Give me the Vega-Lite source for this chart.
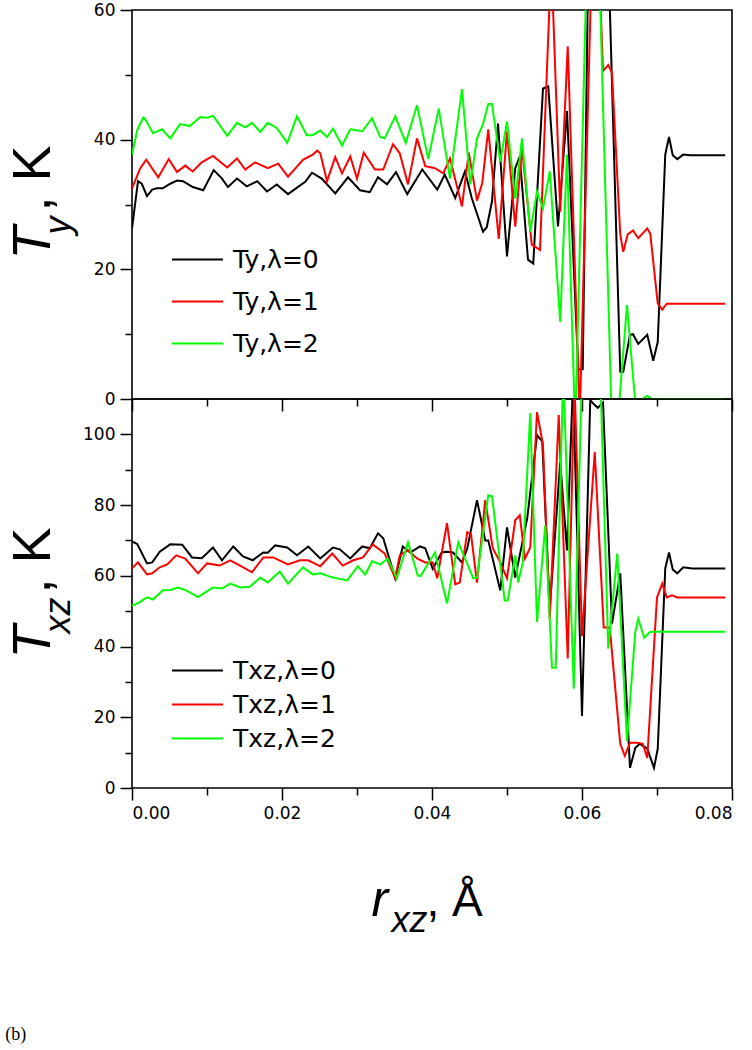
{
  "$schema": "https://vega.github.io/schema/vega-lite/v6.json",
  "background": "white",
  "padding": {"left": 5, "top": 0, "right": 10, "bottom": 3},
  "bounds": "flush",
  "spacing": 0,
  "title": {"text": "(b)", "orient": "bottom", "anchor": "start", "frame": "bounds", "font": "Liberation Serif", "fontSize": 18, "fontWeight": "normal", "color": "black", "offset": 87},
  "config": {
    "view": {"stroke": "black", "strokeWidth": 1.6},
    "font": "Liberation Sans",
    "axis": {"domain": false, "grid": false, "tickColor": "black", "tickWidth": 1.5, "labelColor": "black", "labelFont": "DejaVu Sans", "labelFontSize": 17, "labelPadding": 5, "titleColor": "black", "titleFont": "Liberation Sans", "titleFontWeight": "normal", "titlePadding": 0},
    "legend": {"title": null, "orient": "none", "labelFont": "DejaVu Sans", "labelFontSize": 25, "labelColor": "black", "symbolType": "M-5,0H5", "symbolSize": 104, "symbolStrokeWidth": 2, "labelOffset": 23, "padding": 0}
  },
  "datasets": {
    "top": [
      {"r":0,"T":26.3,"s":"Ty,λ=0"},{"r":0.0008,"T":33.6,"s":"Ty,λ=0"},{"r":0.0013,"T":33.2,"s":"Ty,λ=0"},{"r":0.002,"T":31.3,"s":"Ty,λ=0"},{"r":0.0027,"T":32.3,"s":"Ty,λ=0"},{"r":0.0033,"T":32.5,"s":"Ty,λ=0"},{"r":0.0041,"T":32.5,"s":"Ty,λ=0"},{"r":0.0051,"T":33.2,"s":"Ty,λ=0"},{"r":0.006,"T":33.7,"s":"Ty,λ=0"},{"r":0.0068,"T":33.6,"s":"Ty,λ=0"},{"r":0.0081,"T":32.7,"s":"Ty,λ=0"},{"r":0.0095,"T":32.2,"s":"Ty,λ=0"},{"r":0.0109,"T":35.3,"s":"Ty,λ=0"},{"r":0.012,"T":34.0,"s":"Ty,λ=0"},{"r":0.0128,"T":32.7,"s":"Ty,λ=0"},{"r":0.014,"T":34.0,"s":"Ty,λ=0"},{"r":0.0153,"T":32.8,"s":"Ty,λ=0"},{"r":0.0167,"T":33.6,"s":"Ty,λ=0"},{"r":0.018,"T":32.0,"s":"Ty,λ=0"},{"r":0.0193,"T":33.1,"s":"Ty,λ=0"},{"r":0.0208,"T":31.6,"s":"Ty,λ=0"},{"r":0.022,"T":32.6,"s":"Ty,λ=0"},{"r":0.0231,"T":33.5,"s":"Ty,λ=0"},{"r":0.024,"T":34.9,"s":"Ty,λ=0"},{"r":0.0253,"T":34.0,"s":"Ty,λ=0"},{"r":0.0271,"T":31.7,"s":"Ty,λ=0"},{"r":0.0288,"T":34.2,"s":"Ty,λ=0"},{"r":0.0304,"T":32.2,"s":"Ty,λ=0"},{"r":0.0317,"T":31.9,"s":"Ty,λ=0"},{"r":0.0328,"T":34.2,"s":"Ty,λ=0"},{"r":0.034,"T":33.1,"s":"Ty,λ=0"},{"r":0.0352,"T":35.0,"s":"Ty,λ=0"},{"r":0.0367,"T":31.6,"s":"Ty,λ=0"},{"r":0.0387,"T":35.4,"s":"Ty,λ=0"},{"r":0.0407,"T":32.3,"s":"Ty,λ=0"},{"r":0.0417,"T":34.6,"s":"Ty,λ=0"},{"r":0.0431,"T":31.0,"s":"Ty,λ=0"},{"r":0.0444,"T":35.1,"s":"Ty,λ=0"},{"r":0.0453,"T":31.0,"s":"Ty,λ=0"},{"r":0.0468,"T":25.8,"s":"Ty,λ=0"},{"r":0.0473,"T":26.5,"s":"Ty,λ=0"},{"r":0.048,"T":30.5,"s":"Ty,λ=0"},{"r":0.0488,"T":42.5,"s":"Ty,λ=0"},{"r":0.05,"T":22.0,"s":"Ty,λ=0"},{"r":0.0511,"T":35.6,"s":"Ty,λ=0"},{"r":0.0517,"T":37.4,"s":"Ty,λ=0"},{"r":0.0528,"T":21.5,"s":"Ty,λ=0"},{"r":0.0535,"T":20.9,"s":"Ty,λ=0"},{"r":0.0548,"T":47.9,"s":"Ty,λ=0"},{"r":0.0555,"T":48.2,"s":"Ty,λ=0"},{"r":0.0568,"T":26.6,"s":"Ty,λ=0"},{"r":0.058,"T":44.4,"s":"Ty,λ=0"},{"r":0.0595,"T":4.6,"s":"Ty,λ=0"},{"r":0.0601,"T":4.6,"s":"Ty,λ=0"},{"r":0.0611,"T":90,"s":"Ty,λ=0"},{"r":0.0621,"T":100,"s":"Ty,λ=0"},{"r":0.0631,"T":85,"s":"Ty,λ=0"},{"r":0.0651,"T":4.2,"s":"Ty,λ=0"},{"r":0.0655,"T":4.2,"s":"Ty,λ=0"},{"r":0.0664,"T":9.9,"s":"Ty,λ=0"},{"r":0.0668,"T":10.0,"s":"Ty,λ=0"},{"r":0.0675,"T":8.5,"s":"Ty,λ=0"},{"r":0.0687,"T":9.9,"s":"Ty,λ=0"},{"r":0.0695,"T":5.9,"s":"Ty,λ=0"},{"r":0.0701,"T":8.8,"s":"Ty,λ=0"},{"r":0.0711,"T":37.7,"s":"Ty,λ=0"},{"r":0.0716,"T":40.4,"s":"Ty,λ=0"},{"r":0.0721,"T":37.6,"s":"Ty,λ=0"},{"r":0.0727,"T":37.0,"s":"Ty,λ=0"},{"r":0.0735,"T":37.7,"s":"Ty,λ=0"},{"r":0.0744,"T":37.6,"s":"Ty,λ=0"},{"r":0.0791,"T":37.6,"s":"Ty,λ=0"},
      {"r":0,"T":32.5,"s":"Ty,λ=1"},{"r":0.0011,"T":35.6,"s":"Ty,λ=1"},{"r":0.0019,"T":36.9,"s":"Ty,λ=1"},{"r":0.0035,"T":34.2,"s":"Ty,λ=1"},{"r":0.0049,"T":37.0,"s":"Ty,λ=1"},{"r":0.006,"T":35.0,"s":"Ty,λ=1"},{"r":0.0071,"T":36.0,"s":"Ty,λ=1"},{"r":0.0081,"T":35.1,"s":"Ty,λ=1"},{"r":0.0093,"T":36.5,"s":"Ty,λ=1"},{"r":0.0108,"T":37.5,"s":"Ty,λ=1"},{"r":0.0127,"T":35.7,"s":"Ty,λ=1"},{"r":0.014,"T":37.1,"s":"Ty,λ=1"},{"r":0.0151,"T":35.4,"s":"Ty,λ=1"},{"r":0.0164,"T":36.5,"s":"Ty,λ=1"},{"r":0.0181,"T":35.6,"s":"Ty,λ=1"},{"r":0.0195,"T":36.3,"s":"Ty,λ=1"},{"r":0.0208,"T":34.3,"s":"Ty,λ=1"},{"r":0.0228,"T":36.9,"s":"Ty,λ=1"},{"r":0.0241,"T":37.7,"s":"Ty,λ=1"},{"r":0.0247,"T":38.3,"s":"Ty,λ=1"},{"r":0.0251,"T":37.9,"s":"Ty,λ=1"},{"r":0.026,"T":33.6,"s":"Ty,λ=1"},{"r":0.0271,"T":37.3,"s":"Ty,λ=1"},{"r":0.028,"T":34.8,"s":"Ty,λ=1"},{"r":0.0291,"T":37.4,"s":"Ty,λ=1"},{"r":0.03,"T":34.0,"s":"Ty,λ=1"},{"r":0.0309,"T":38.0,"s":"Ty,λ=1"},{"r":0.0324,"T":35.4,"s":"Ty,λ=1"},{"r":0.0335,"T":35.4,"s":"Ty,λ=1"},{"r":0.0348,"T":39.3,"s":"Ty,λ=1"},{"r":0.0357,"T":37.9,"s":"Ty,λ=1"},{"r":0.0368,"T":33.1,"s":"Ty,λ=1"},{"r":0.038,"T":40.2,"s":"Ty,λ=1"},{"r":0.0391,"T":35.9,"s":"Ty,λ=1"},{"r":0.0404,"T":35.6,"s":"Ty,λ=1"},{"r":0.0415,"T":34.8,"s":"Ty,λ=1"},{"r":0.0424,"T":37.1,"s":"Ty,λ=1"},{"r":0.044,"T":29.7,"s":"Ty,λ=1"},{"r":0.0449,"T":38.0,"s":"Ty,λ=1"},{"r":0.046,"T":30.6,"s":"Ty,λ=1"},{"r":0.0467,"T":33.3,"s":"Ty,λ=1"},{"r":0.0475,"T":41.6,"s":"Ty,λ=1"},{"r":0.0489,"T":24.7,"s":"Ty,λ=1"},{"r":0.05,"T":41.3,"s":"Ty,λ=1"},{"r":0.0511,"T":26.6,"s":"Ty,λ=1"},{"r":0.052,"T":38.7,"s":"Ty,λ=1"},{"r":0.0533,"T":23.8,"s":"Ty,λ=1"},{"r":0.0544,"T":23.0,"s":"Ty,λ=1"},{"r":0.0559,"T":68,"s":"Ty,λ=1"},{"r":0.0571,"T":28.9,"s":"Ty,λ=1"},{"r":0.0581,"T":54.4,"s":"Ty,λ=1"},{"r":0.0597,"T":-3,"s":"Ty,λ=1"},{"r":0.0617,"T":85,"s":"Ty,λ=1"},{"r":0.0628,"T":50.6,"s":"Ty,λ=1"},{"r":0.0635,"T":51.5,"s":"Ty,λ=1"},{"r":0.064,"T":50.3,"s":"Ty,λ=1"},{"r":0.0651,"T":25.4,"s":"Ty,λ=1"},{"r":0.0655,"T":22.7,"s":"Ty,λ=1"},{"r":0.0661,"T":25.4,"s":"Ty,λ=1"},{"r":0.0668,"T":26.0,"s":"Ty,λ=1"},{"r":0.0675,"T":24.8,"s":"Ty,λ=1"},{"r":0.0687,"T":26.3,"s":"Ty,λ=1"},{"r":0.0691,"T":25.5,"s":"Ty,λ=1"},{"r":0.0701,"T":14.7,"s":"Ty,λ=1"},{"r":0.0707,"T":13.8,"s":"Ty,λ=1"},{"r":0.0713,"T":14.7,"s":"Ty,λ=1"},{"r":0.0721,"T":14.7,"s":"Ty,λ=1"},{"r":0.0791,"T":14.7,"s":"Ty,λ=1"},
      {"r":0,"T":37.7,"s":"Ty,λ=2"},{"r":0.0007,"T":41.5,"s":"Ty,λ=2"},{"r":0.0015,"T":43.4,"s":"Ty,λ=2"},{"r":0.0017,"T":43.3,"s":"Ty,λ=2"},{"r":0.0028,"T":41.0,"s":"Ty,λ=2"},{"r":0.004,"T":41.6,"s":"Ty,λ=2"},{"r":0.0051,"T":40.2,"s":"Ty,λ=2"},{"r":0.0064,"T":42.4,"s":"Ty,λ=2"},{"r":0.0077,"T":42.1,"s":"Ty,λ=2"},{"r":0.0091,"T":43.5,"s":"Ty,λ=2"},{"r":0.01,"T":43.4,"s":"Ty,λ=2"},{"r":0.0108,"T":43.7,"s":"Ty,λ=2"},{"r":0.0127,"T":40.6,"s":"Ty,λ=2"},{"r":0.014,"T":42.6,"s":"Ty,λ=2"},{"r":0.0151,"T":41.9,"s":"Ty,λ=2"},{"r":0.016,"T":42.6,"s":"Ty,λ=2"},{"r":0.0171,"T":41.2,"s":"Ty,λ=2"},{"r":0.0181,"T":42.6,"s":"Ty,λ=2"},{"r":0.0193,"T":41.8,"s":"Ty,λ=2"},{"r":0.0207,"T":39.5,"s":"Ty,λ=2"},{"r":0.022,"T":43.6,"s":"Ty,λ=2"},{"r":0.0233,"T":40.7,"s":"Ty,λ=2"},{"r":0.0241,"T":40.7,"s":"Ty,λ=2"},{"r":0.0251,"T":41.4,"s":"Ty,λ=2"},{"r":0.026,"T":40.4,"s":"Ty,λ=2"},{"r":0.0268,"T":41.7,"s":"Ty,λ=2"},{"r":0.028,"T":39.1,"s":"Ty,λ=2"},{"r":0.0291,"T":41.6,"s":"Ty,λ=2"},{"r":0.0307,"T":41.3,"s":"Ty,λ=2"},{"r":0.032,"T":43.3,"s":"Ty,λ=2"},{"r":0.0331,"T":40.4,"s":"Ty,λ=2"},{"r":0.0337,"T":40.2,"s":"Ty,λ=2"},{"r":0.0351,"T":43.6,"s":"Ty,λ=2"},{"r":0.0365,"T":39.5,"s":"Ty,λ=2"},{"r":0.038,"T":45.3,"s":"Ty,λ=2"},{"r":0.0395,"T":37.0,"s":"Ty,λ=2"},{"r":0.0409,"T":44.8,"s":"Ty,λ=2"},{"r":0.0424,"T":34.0,"s":"Ty,λ=2"},{"r":0.044,"T":47.8,"s":"Ty,λ=2"},{"r":0.0451,"T":33.1,"s":"Ty,λ=2"},{"r":0.046,"T":40.2,"s":"Ty,λ=2"},{"r":0.0468,"T":42.4,"s":"Ty,λ=2"},{"r":0.0475,"T":45.5,"s":"Ty,λ=2"},{"r":0.048,"T":45.5,"s":"Ty,λ=2"},{"r":0.0491,"T":36.6,"s":"Ty,λ=2"},{"r":0.05,"T":42.8,"s":"Ty,λ=2"},{"r":0.0511,"T":30.9,"s":"Ty,λ=2"},{"r":0.052,"T":40.2,"s":"Ty,λ=2"},{"r":0.0531,"T":25.8,"s":"Ty,λ=2"},{"r":0.054,"T":32.0,"s":"Ty,λ=2"},{"r":0.0548,"T":29.4,"s":"Ty,λ=2"},{"r":0.0557,"T":35.1,"s":"Ty,λ=2"},{"r":0.0571,"T":11.9,"s":"Ty,λ=2"},{"r":0.058,"T":37.7,"s":"Ty,λ=2"},{"r":0.0591,"T":-5,"s":"Ty,λ=2"},{"r":0.0608,"T":75,"s":"Ty,λ=2"},{"r":0.0621,"T":75,"s":"Ty,λ=2"},{"r":0.064,"T":-5,"s":"Ty,λ=2"},{"r":0.0648,"T":-3,"s":"Ty,λ=2"},{"r":0.066,"T":14.5,"s":"Ty,λ=2"},{"r":0.0671,"T":-0.5,"s":"Ty,λ=2"},{"r":0.068,"T":0,"s":"Ty,λ=2"},{"r":0.0687,"T":0.5,"s":"Ty,λ=2"},{"r":0.0693,"T":0,"s":"Ty,λ=2"},{"r":0.0791,"T":0,"s":"Ty,λ=2"}
    ],
    "bottom": [
      {"r":0,"T":69.7,"s":"Txz,λ=0"},{"r":0.0007,"T":69.0,"s":"Txz,λ=0"},{"r":0.002,"T":63.5,"s":"Txz,λ=0"},{"r":0.0027,"T":63.8,"s":"Txz,λ=0"},{"r":0.0037,"T":66.8,"s":"Txz,λ=0"},{"r":0.0051,"T":68.9,"s":"Txz,λ=0"},{"r":0.0067,"T":68.8,"s":"Txz,λ=0"},{"r":0.008,"T":65.2,"s":"Txz,λ=0"},{"r":0.0093,"T":65.0,"s":"Txz,λ=0"},{"r":0.0108,"T":68.0,"s":"Txz,λ=0"},{"r":0.012,"T":64.4,"s":"Txz,λ=0"},{"r":0.0135,"T":68.3,"s":"Txz,λ=0"},{"r":0.0148,"T":65.5,"s":"Txz,λ=0"},{"r":0.0161,"T":64.4,"s":"Txz,λ=0"},{"r":0.0175,"T":66.6,"s":"Txz,λ=0"},{"r":0.0181,"T":66.5,"s":"Txz,λ=0"},{"r":0.0191,"T":68.6,"s":"Txz,λ=0"},{"r":0.0207,"T":68.0,"s":"Txz,λ=0"},{"r":0.022,"T":65.8,"s":"Txz,λ=0"},{"r":0.0235,"T":68.3,"s":"Txz,λ=0"},{"r":0.0251,"T":64.9,"s":"Txz,λ=0"},{"r":0.0268,"T":68.0,"s":"Txz,λ=0"},{"r":0.0277,"T":67.5,"s":"Txz,λ=0"},{"r":0.0291,"T":64.9,"s":"Txz,λ=0"},{"r":0.0307,"T":68.3,"s":"Txz,λ=0"},{"r":0.0317,"T":67.8,"s":"Txz,λ=0"},{"r":0.0328,"T":72.0,"s":"Txz,λ=0"},{"r":0.0335,"T":70.6,"s":"Txz,λ=0"},{"r":0.0351,"T":59.3,"s":"Txz,λ=0"},{"r":0.0361,"T":68.3,"s":"Txz,λ=0"},{"r":0.0371,"T":66.6,"s":"Txz,λ=0"},{"r":0.0384,"T":68.3,"s":"Txz,λ=0"},{"r":0.0391,"T":67.8,"s":"Txz,λ=0"},{"r":0.0401,"T":62.0,"s":"Txz,λ=0"},{"r":0.0413,"T":66.6,"s":"Txz,λ=0"},{"r":0.042,"T":66.8,"s":"Txz,λ=0"},{"r":0.0428,"T":66.6,"s":"Txz,λ=0"},{"r":0.044,"T":63.8,"s":"Txz,λ=0"},{"r":0.0447,"T":67.7,"s":"Txz,λ=0"},{"r":0.046,"T":81.4,"s":"Txz,λ=0"},{"r":0.0471,"T":70.0,"s":"Txz,λ=0"},{"r":0.0475,"T":70.0,"s":"Txz,λ=0"},{"r":0.0491,"T":55.9,"s":"Txz,λ=0"},{"r":0.05,"T":73.7,"s":"Txz,λ=0"},{"r":0.0511,"T":59.5,"s":"Txz,λ=0"},{"r":0.0527,"T":76.3,"s":"Txz,λ=0"},{"r":0.054,"T":99.8,"s":"Txz,λ=0"},{"r":0.0547,"T":98.0,"s":"Txz,λ=0"},{"r":0.0557,"T":50.8,"s":"Txz,λ=0"},{"r":0.0571,"T":92.1,"s":"Txz,λ=0"},{"r":0.058,"T":67.2,"s":"Txz,λ=0"},{"r":0.0588,"T":115,"s":"Txz,λ=0"},{"r":0.06,"T":20.4,"s":"Txz,λ=0"},{"r":0.0611,"T":109.7,"s":"Txz,λ=0"},{"r":0.0616,"T":108.5,"s":"Txz,λ=0"},{"r":0.0621,"T":107.5,"s":"Txz,λ=0"},{"r":0.0628,"T":109.0,"s":"Txz,λ=0"},{"r":0.064,"T":46.5,"s":"Txz,λ=0"},{"r":0.0651,"T":60.7,"s":"Txz,λ=0"},{"r":0.0664,"T":5.7,"s":"Txz,λ=0"},{"r":0.0671,"T":11.3,"s":"Txz,λ=0"},{"r":0.0677,"T":12.5,"s":"Txz,λ=0"},{"r":0.0687,"T":11.1,"s":"Txz,λ=0"},{"r":0.0696,"T":5.7,"s":"Txz,λ=0"},{"r":0.0701,"T":11.1,"s":"Txz,λ=0"},{"r":0.0711,"T":62.1,"s":"Txz,λ=0"},{"r":0.0716,"T":66.6,"s":"Txz,λ=0"},{"r":0.0721,"T":61.8,"s":"Txz,λ=0"},{"r":0.0727,"T":60.7,"s":"Txz,λ=0"},{"r":0.0735,"T":62.4,"s":"Txz,λ=0"},{"r":0.0747,"T":62.1,"s":"Txz,λ=0"},{"r":0.0791,"T":62.1,"s":"Txz,λ=0"},
      {"r":0,"T":62.1,"s":"Txz,λ=1"},{"r":0.0008,"T":63.8,"s":"Txz,λ=1"},{"r":0.002,"T":60.4,"s":"Txz,λ=1"},{"r":0.0027,"T":60.7,"s":"Txz,λ=1"},{"r":0.0037,"T":62.4,"s":"Txz,λ=1"},{"r":0.0047,"T":63.2,"s":"Txz,λ=1"},{"r":0.0059,"T":65.8,"s":"Txz,λ=1"},{"r":0.0071,"T":64.9,"s":"Txz,λ=1"},{"r":0.0088,"T":60.7,"s":"Txz,λ=1"},{"r":0.01,"T":63.5,"s":"Txz,λ=1"},{"r":0.0117,"T":62.9,"s":"Txz,λ=1"},{"r":0.0131,"T":64.4,"s":"Txz,λ=1"},{"r":0.0144,"T":62.9,"s":"Txz,λ=1"},{"r":0.016,"T":61.0,"s":"Txz,λ=1"},{"r":0.0175,"T":65.2,"s":"Txz,λ=1"},{"r":0.0188,"T":65.2,"s":"Txz,λ=1"},{"r":0.0208,"T":63.2,"s":"Txz,λ=1"},{"r":0.0224,"T":64.4,"s":"Txz,λ=1"},{"r":0.0235,"T":64.4,"s":"Txz,λ=1"},{"r":0.0251,"T":62.7,"s":"Txz,λ=1"},{"r":0.0267,"T":66.3,"s":"Txz,λ=1"},{"r":0.0281,"T":62.9,"s":"Txz,λ=1"},{"r":0.0295,"T":64.4,"s":"Txz,λ=1"},{"r":0.0308,"T":65.2,"s":"Txz,λ=1"},{"r":0.0321,"T":68.9,"s":"Txz,λ=1"},{"r":0.0337,"T":66.3,"s":"Txz,λ=1"},{"r":0.0351,"T":59.3,"s":"Txz,λ=1"},{"r":0.0357,"T":65.8,"s":"Txz,λ=1"},{"r":0.0368,"T":67.2,"s":"Txz,λ=1"},{"r":0.038,"T":64.9,"s":"Txz,λ=1"},{"r":0.0391,"T":63.8,"s":"Txz,λ=1"},{"r":0.0401,"T":63.8,"s":"Txz,λ=1"},{"r":0.0407,"T":59.3,"s":"Txz,λ=1"},{"r":0.042,"T":74.9,"s":"Txz,λ=1"},{"r":0.0431,"T":57.6,"s":"Txz,λ=1"},{"r":0.0437,"T":58.1,"s":"Txz,λ=1"},{"r":0.0447,"T":72.3,"s":"Txz,λ=1"},{"r":0.0452,"T":71.8,"s":"Txz,λ=1"},{"r":0.046,"T":58.1,"s":"Txz,λ=1"},{"r":0.0471,"T":81.4,"s":"Txz,λ=1"},{"r":0.0481,"T":67.8,"s":"Txz,λ=1"},{"r":0.0491,"T":63.8,"s":"Txz,λ=1"},{"r":0.05,"T":59.3,"s":"Txz,λ=1"},{"r":0.0511,"T":75.7,"s":"Txz,λ=1"},{"r":0.0517,"T":77.1,"s":"Txz,λ=1"},{"r":0.0524,"T":64.9,"s":"Txz,λ=1"},{"r":0.0531,"T":68.0,"s":"Txz,λ=1"},{"r":0.054,"T":106.3,"s":"Txz,λ=1"},{"r":0.0548,"T":97.0,"s":"Txz,λ=1"},{"r":0.0557,"T":47.9,"s":"Txz,λ=1"},{"r":0.0569,"T":105.5,"s":"Txz,λ=1"},{"r":0.0581,"T":36.6,"s":"Txz,λ=1"},{"r":0.059,"T":115,"s":"Txz,λ=1"},{"r":0.06,"T":42.9,"s":"Txz,λ=1"},{"r":0.0617,"T":95,"s":"Txz,λ=1"},{"r":0.0629,"T":45.4,"s":"Txz,λ=1"},{"r":0.0637,"T":45.4,"s":"Txz,λ=1"},{"r":0.0651,"T":12.5,"s":"Txz,λ=1"},{"r":0.0657,"T":9.1,"s":"Txz,λ=1"},{"r":0.0664,"T":12.8,"s":"Txz,λ=1"},{"r":0.0673,"T":12.8,"s":"Txz,λ=1"},{"r":0.0681,"T":12.5,"s":"Txz,λ=1"},{"r":0.0687,"T":8.5,"s":"Txz,λ=1"},{"r":0.07,"T":53.9,"s":"Txz,λ=1"},{"r":0.0707,"T":57.8,"s":"Txz,λ=1"},{"r":0.0713,"T":53.9,"s":"Txz,λ=1"},{"r":0.072,"T":54.5,"s":"Txz,λ=1"},{"r":0.0727,"T":53.9,"s":"Txz,λ=1"},{"r":0.0791,"T":53.9,"s":"Txz,λ=1"},
      {"r":0,"T":51.6,"s":"Txz,λ=2"},{"r":0.0008,"T":52.3,"s":"Txz,λ=2"},{"r":0.002,"T":53.9,"s":"Txz,λ=2"},{"r":0.0028,"T":53.3,"s":"Txz,λ=2"},{"r":0.0041,"T":55.9,"s":"Txz,λ=2"},{"r":0.0051,"T":56.0,"s":"Txz,λ=2"},{"r":0.0061,"T":56.7,"s":"Txz,λ=2"},{"r":0.0073,"T":55.8,"s":"Txz,λ=2"},{"r":0.0088,"T":54.0,"s":"Txz,λ=2"},{"r":0.01,"T":55.6,"s":"Txz,λ=2"},{"r":0.0108,"T":56.7,"s":"Txz,λ=2"},{"r":0.012,"T":56.4,"s":"Txz,λ=2"},{"r":0.0131,"T":57.8,"s":"Txz,λ=2"},{"r":0.0144,"T":56.7,"s":"Txz,λ=2"},{"r":0.0157,"T":56.9,"s":"Txz,λ=2"},{"r":0.0171,"T":59.5,"s":"Txz,λ=2"},{"r":0.0181,"T":58.1,"s":"Txz,λ=2"},{"r":0.0197,"T":61.2,"s":"Txz,λ=2"},{"r":0.0208,"T":57.8,"s":"Txz,λ=2"},{"r":0.0228,"T":62.4,"s":"Txz,λ=2"},{"r":0.0241,"T":60.4,"s":"Txz,λ=2"},{"r":0.0251,"T":60.7,"s":"Txz,λ=2"},{"r":0.0268,"T":59.5,"s":"Txz,λ=2"},{"r":0.0287,"T":58.7,"s":"Txz,λ=2"},{"r":0.0301,"T":62.7,"s":"Txz,λ=2"},{"r":0.0311,"T":60.4,"s":"Txz,λ=2"},{"r":0.032,"T":64.1,"s":"Txz,λ=2"},{"r":0.0331,"T":63.2,"s":"Txz,λ=2"},{"r":0.0341,"T":64.9,"s":"Txz,λ=2"},{"r":0.0353,"T":59.3,"s":"Txz,λ=2"},{"r":0.0368,"T":69.5,"s":"Txz,λ=2"},{"r":0.0381,"T":60.1,"s":"Txz,λ=2"},{"r":0.0385,"T":60.0,"s":"Txz,λ=2"},{"r":0.0404,"T":66.6,"s":"Txz,λ=2"},{"r":0.042,"T":52.2,"s":"Txz,λ=2"},{"r":0.0435,"T":69.5,"s":"Txz,λ=2"},{"r":0.0455,"T":59.3,"s":"Txz,λ=2"},{"r":0.046,"T":59.5,"s":"Txz,λ=2"},{"r":0.0475,"T":82.8,"s":"Txz,λ=2"},{"r":0.048,"T":82.5,"s":"Txz,λ=2"},{"r":0.0497,"T":53.0,"s":"Txz,λ=2"},{"r":0.0501,"T":53.0,"s":"Txz,λ=2"},{"r":0.0511,"T":65.8,"s":"Txz,λ=2"},{"r":0.0515,"T":58.1,"s":"Txz,λ=2"},{"r":0.0521,"T":63.8,"s":"Txz,λ=2"},{"r":0.0531,"T":106.0,"s":"Txz,λ=2"},{"r":0.054,"T":47.0,"s":"Txz,λ=2"},{"r":0.0551,"T":74.3,"s":"Txz,λ=2"},{"r":0.056,"T":34.0,"s":"Txz,λ=2"},{"r":0.0565,"T":34.0,"s":"Txz,λ=2"},{"r":0.0575,"T":118,"s":"Txz,λ=2"},{"r":0.0589,"T":28.1,"s":"Txz,λ=2"},{"r":0.06,"T":118,"s":"Txz,λ=2"},{"r":0.0611,"T":125,"s":"Txz,λ=2"},{"r":0.0624,"T":120,"s":"Txz,λ=2"},{"r":0.0635,"T":39.4,"s":"Txz,λ=2"},{"r":0.0647,"T":66.3,"s":"Txz,λ=2"},{"r":0.066,"T":13.3,"s":"Txz,λ=2"},{"r":0.0671,"T":44.0,"s":"Txz,λ=2"},{"r":0.0675,"T":47.9,"s":"Txz,λ=2"},{"r":0.0683,"T":42.5,"s":"Txz,λ=2"},{"r":0.0691,"T":44.2,"s":"Txz,λ=2"},{"r":0.0791,"T":44.2,"s":"Txz,λ=2"}
    ]
  },
  "resolve": {"scale": {"color": "independent"}, "legend": {"color": "independent"}},
  "vconcat": [
    {
      "width": 600, "height": 389,
      "resolve": {"axis": {"x": "independent", "y": "independent"}},
      "layer": [
        {
          "data": {"name": "top"},
          "mark": {"type": "line", "strokeWidth": 2, "clip": true},
          "encoding": {
            "x": {"field": "r", "type": "quantitative", "scale": {"domain": [0, 0.08], "nice": false, "zero": false},
                  "axis": {"orient": "bottom", "values": [0, 0.02, 0.04, 0.06, 0.08], "labels": false, "tickSize": 12, "title": null}},
            "y": {"field": "T", "type": "quantitative", "scale": {"domain": [0, 60], "nice": false},
                  "axis": {"orient": "left", "values": [0, 20, 40, 60], "tickSize": 12, "title": "T", "titleFontStyle": "italic", "titleFontSize": 54, "titleAngle": 270, "titleAlign": "left", "titleBaseline": "alphabetic", "titleX": -83, "titleY": 249}},
            "color": {"field": "s", "type": "nominal",
                      "scale": {"domain": ["Ty,λ=0", "Ty,λ=1", "Ty,λ=2"], "range": ["#000000", "#ff0000", "#00ff00"]},
                      "legend": {"legendX": 53, "legendY": 237, "rowPadding": 16}}
          }
        },
        {
          "data": {"values": []},
          "mark": {"type": "line"},
          "encoding": {
            "x": {"field": "r", "type": "quantitative", "scale": {"domain": [0, 0.08], "nice": false, "zero": false},
                  "axis": {"orient": "bottom", "values": [0.01, 0.03, 0.05, 0.07], "labels": false, "tickSize": 7, "title": null}},
            "y": {"field": "T", "type": "quantitative", "scale": {"domain": [0, 60], "nice": false},
                  "axis": {"orient": "left", "values": [10, 30, 50], "labels": false, "tickSize": 7, "title": "y", "titleFontStyle": "italic", "titleFontSize": 36, "titleAngle": 270, "titleAlign": "left", "titleBaseline": "alphabetic", "titleX": -63, "titleY": 224}}
          }
        },
        {
          "data": {"values": []},
          "mark": {"type": "line"},
          "encoding": {
            "x": {"field": "r", "type": "quantitative", "scale": {"domain": [0, 0.08], "nice": false, "zero": false}, "axis": null},
            "y": {"field": "T", "type": "quantitative", "scale": {"domain": [0, 60], "nice": false},
                  "axis": {"orient": "left", "ticks": false, "labels": false, "title": ", K", "titleFontSize": 54, "titleAngle": 270, "titleAlign": "left", "titleBaseline": "alphabetic", "titleX": -83, "titleY": 201}}
          }
        }
      ]
    },
    {
      "width": 600, "height": 389,
      "resolve": {"axis": {"x": "independent", "y": "independent"}},
      "layer": [
        {
          "data": {"name": "bottom"},
          "mark": {"type": "line", "strokeWidth": 2, "clip": true},
          "encoding": {
            "x": {"field": "r", "type": "quantitative", "scale": {"domain": [0, 0.08], "nice": false, "zero": false},
                  "axis": {"orient": "bottom", "values": [0, 0.02, 0.04, 0.06, 0.08], "format": ".2f", "tickSize": 12, "labelPadding": 5, "title": "r", "titleFontStyle": "italic", "titleFontSize": 50, "titleAlign": "left", "titleBaseline": "alphabetic", "titleX": 239, "titleY": 127}},
            "y": {"field": "T", "type": "quantitative", "scale": {"domain": [0, 110], "nice": false},
                  "axis": {"orient": "left", "values": [0, 20, 40, 60, 80, 100], "tickSize": 12, "title": "T", "titleFontStyle": "italic", "titleFontSize": 54, "titleAngle": 270, "titleAlign": "left", "titleBaseline": "alphabetic", "titleX": -83, "titleY": 259}},
            "color": {"field": "s", "type": "nominal",
                      "scale": {"domain": ["Txz,λ=0", "Txz,λ=1", "Txz,λ=2"], "range": ["#000000", "#ff0000", "#00ff00"]},
                      "legend": {"legendX": 53, "legendY": 259, "rowPadding": 8}}
          }
        },
        {
          "data": {"values": []},
          "mark": {"type": "line"},
          "encoding": {
            "x": {"field": "r", "type": "quantitative", "scale": {"domain": [0, 0.08], "nice": false, "zero": false},
                  "axis": {"orient": "bottom", "values": [0.01, 0.03, 0.05, 0.07], "labels": false, "tickSize": 7, "title": "xz", "titleFontStyle": "italic", "titleFontSize": 36, "titleAlign": "left", "titleBaseline": "alphabetic", "titleX": 259, "titleY": 143}},
            "y": {"field": "T", "type": "quantitative", "scale": {"domain": [0, 110], "nice": false},
                  "axis": {"orient": "left", "values": [10, 30, 50, 70, 90], "labels": false, "tickSize": 7, "title": "xz", "titleFontStyle": "italic", "titleFontSize": 36, "titleAngle": 270, "titleAlign": "left", "titleBaseline": "alphabetic", "titleX": -63, "titleY": 234}}
          }
        },
        {
          "data": {"values": []},
          "mark": {"type": "line"},
          "encoding": {
            "x": {"field": "r", "type": "quantitative", "scale": {"domain": [0, 0.08], "nice": false, "zero": false},
                  "axis": {"orient": "bottom", "ticks": false, "labels": false, "title": ", Å", "titleFontSize": 46, "titleAlign": "left", "titleBaseline": "alphabetic", "titleX": 294, "titleY": 127}},
            "y": {"field": "T", "type": "quantitative", "scale": {"domain": [0, 110], "nice": false},
                  "axis": {"orient": "left", "ticks": false, "labels": false, "title": ", K", "titleFontSize": 54, "titleAngle": 270, "titleAlign": "left", "titleBaseline": "alphabetic", "titleX": -83, "titleY": 194}}
          }
        }
      ]
    }
  ]
}
